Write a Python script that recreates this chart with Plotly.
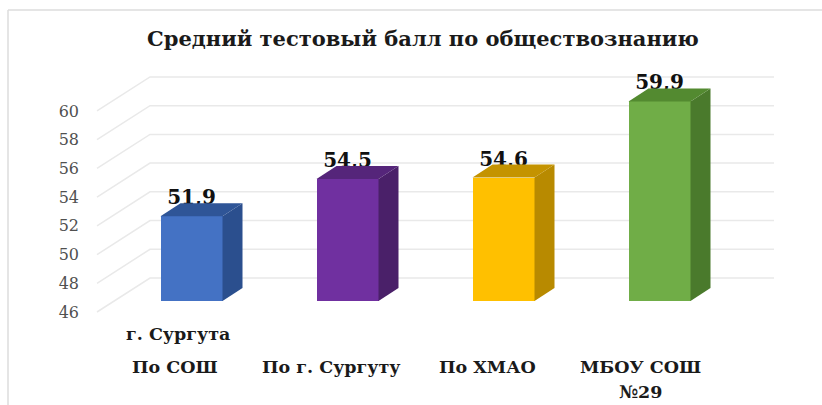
import plotly.graph_objects as go

title = "Средний тестовый балл по обществознанию"
categories = ["По СОШ", "По г. Сургуту", "По ХМАО", "МБОУ СОШ<br>№29"]
upper_label = "г. Сургута"
values = [51.9, 54.5, 54.6, 59.9]
y_ticks = [46, 48, 50, 52, 54, 56, 58, 60]
front_colors = ["#4472C4", "#7030A0", "#FFC000", "#70AD47"]
side_colors = ["#2B4F8E", "#4A2069", "#B88A00", "#4A7A2C"]
top_colors = ["#2F5597", "#55257A", "#C49300", "#538A30"]

# mapping of 3D look in axis units
L, W = 84, 822
PXX = 156.0
PXY = 14.36
X0 = 191.5
Y0 = 301
xr = [(L - X0) / PXX, (W - X0) / PXX]
yr = [46 + (301 - 405) / PXY, 46 + 301 / PXY]
BASE = 46
HALF = 31 / PXX
DX = 20 / PXX
DY = 13 / PXY
FRONT = -11 / PXY
BACK = 23 / PXY
GX0 = (97 - X0) / PXX
GX1 = (150 - X0) / PXX
GX2 = (774 - X0) / PXX

fig = go.Figure()

fig.add_trace(go.Bar(x=list(range(4)), y=[v - BASE for v in values], base=BASE, width=2 * HALF,
                     marker=dict(color=front_colors, line=dict(width=0)), hoverinfo="skip", showlegend=False))

# value labels go under the top faces, which cover their lower edge
fig.add_trace(go.Scatter(x=list(range(4)), y=[v + 17 / PXY for v in values], mode="text",
                         text=[f"<b>{v:.1f}</b>".replace(".", ",") for v in values],
                         textposition="middle center", cliponaxis=False,
                         textfont=dict(family="DejaVu Serif", size=20, color="#111111"),
                         hoverinfo="skip", showlegend=False))

for i, v in enumerate(values):
    r = i + HALF
    l = i - HALF
    fig.add_trace(go.Scatter(x=[r, r + DX, r + DX, r, r], y=[BASE, BASE + DY, v + DY, v, BASE],
                             mode="lines", fill="toself", fillcolor=side_colors[i],
                             line=dict(width=0), hoverinfo="skip", showlegend=False))
    fig.add_trace(go.Scatter(x=[l, r, r + DX, l + DX, l], y=[v, v, v + DY, v + DY, v],
                             mode="lines", fill="toself", fillcolor=top_colors[i],
                             line=dict(width=0), hoverinfo="skip", showlegend=False))

shapes = []
for t in y_ticks:
    shapes.append(dict(type="path", layer="below", xref="x", yref="y",
                       path=f"M {GX0} {t + FRONT} L {GX1} {t + BACK} L {GX2} {t + BACK}",
                       line=dict(color="#E9E9E9", width=1.5)))
# outer frame
px = lambda p: (p - L) / (W - L)
shapes.append(dict(type="line", xref="paper", yref="paper", x0=px(8), x1=px(8), y0=0, y1=1 - 10 / 405,
                   line=dict(color="#DDDDDD", width=1.5), layer="below"))
shapes.append(dict(type="line", xref="paper", yref="paper", x0=px(8), x1=1, y0=1 - 10 / 405, y1=1 - 10 / 405,
                   line=dict(color="#DDDDDD", width=1.5), layer="below"))

ann = []
LABEL_FONT = dict(family="DejaVu Serif", size=17.5, color="#1a1a1a")
shifts = [-16.5, -16.5, -16, -19.5]
for i, c in enumerate(categories):
    s = shifts[i] / PXX
    ann.append(dict(x=i + s, y=46 + (301 - 367) / PXY, xref="x", yref="y", text=f"<b>{c.split('<br>')[0]}</b>",
                    showarrow=False, font=LABEL_FONT, xanchor="center", yanchor="middle"))
    if "<br>" in c:
        ann.append(dict(x=i + s, y=46 + (301 - 392) / PXY, xref="x", yref="y", text=f"<b>{c.split('<br>')[1]}</b>",
                        showarrow=False, font=LABEL_FONT, xanchor="center", yanchor="middle"))
ann.append(dict(x=-13.5 / PXX, y=46 + (301 - 334) / PXY, xref="x", yref="y", text=f"<b>{upper_label}</b>",
                showarrow=False, font=LABEL_FONT, xanchor="center", yanchor="middle"))
ann.append(dict(x=px(422.5), y=1 - 38 / 405, xref="paper", yref="paper", text=f"<b>{title}</b>", showarrow=False,
                font=dict(family="DejaVu Serif", size=21, color="#1a1a1a"), xanchor="center", yanchor="middle"))

fig.update_layout(
    width=822, height=405, margin=dict(l=L, r=0, t=0, b=0),
    paper_bgcolor="white", plot_bgcolor="white", showlegend=False,
    shapes=shapes, annotations=ann, bargap=0,
    xaxis=dict(range=xr, visible=False, fixedrange=True),
    yaxis=dict(range=yr, tickmode="array", tickvals=[t + FRONT for t in y_ticks], ticktext=[str(t) for t in y_ticks],
               showgrid=False, zeroline=False, showline=False, ticks="", ticklabelstandoff=4,
               tickfont=dict(family="DejaVu Serif", size=16, color="#505050"), fixedrange=True),
)
fig.write_html("out.html", config=dict(displayModeBar=False),
               post_script="document.body.style.margin='0';document.documentElement.style.overflow='hidden';")
